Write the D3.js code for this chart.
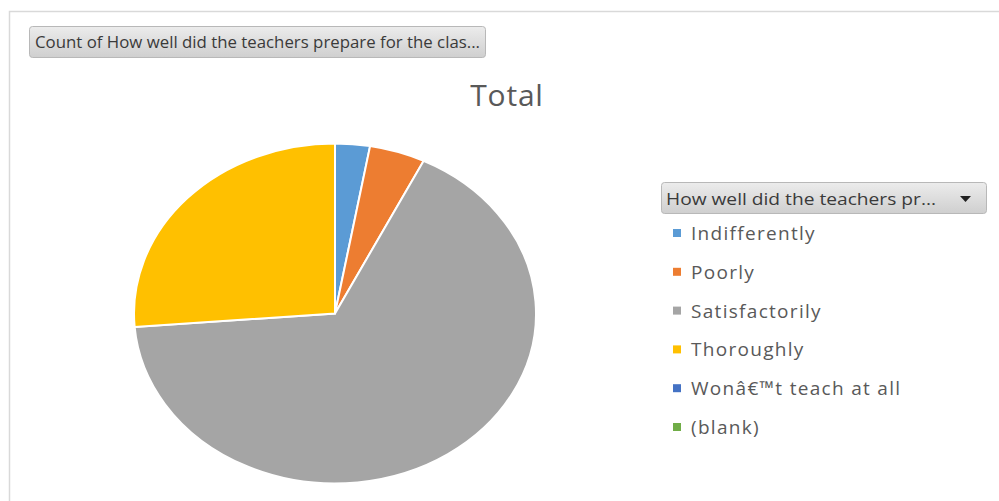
<!DOCTYPE html>
<html>
<head>
<meta charset="utf-8">
<script src="https://cdn.jsdelivr.net/npm/d3@7"></script>
<style>
  body { margin: 0; background: #fff; }
  svg { display: block; font-family: "Open Sans", "Noto Sans", sans-serif; }
</style>
</head>
<body>
<div id="chart"></div>
<script>
// pivot chart data
var categories = ["Indifferently", "Poorly", "Satisfactorily", "Thoroughly", "Won\u00e2\u20ac\u2122t teach at all", "(blank)"];
var counts = [5, 8, 119, 47, 0, 0];
var colors = ["#5b9bd5", "#ed7d31", "#a5a5a5", "#ffc000", "#4472c4", "#70ad47"];

var fieldButton = "Count of How well did the teachers prepare for the clas...";
var legendButton = "How well did the teachers pr...";
var chartTitle = "Total";

var width = 999, height = 501;

var svg = d3.select("#chart").append("svg")
    .attr("width", width)
    .attr("height", height);

var defs = svg.append("defs");
var grad = defs.append("linearGradient")
    .attr("id", "btn-grad")
    .attr("x1", 0).attr("y1", 0).attr("x2", 0).attr("y2", 1);
grad.append("stop").attr("offset", "0%").attr("stop-color", "#ececec");
grad.append("stop").attr("offset", "100%").attr("stop-color", "#cfcfcf");

// chart area border
svg.append("path")
    .attr("d", "M9.5," + height + "V11.5H" + width)
    .style("fill", "none")
    .style("stroke", "#d9d9d9")
    .style("stroke-width", 1.5);

// field button (top left)
svg.append("rect")
    .attr("x", 29.5).attr("y", 26.5)
    .attr("width", 456).attr("height", 31)
    .attr("rx", 3)
    .style("fill", "url(#btn-grad)")
    .style("stroke", "#b8b8b8");

svg.append("text")
    .attr("x", 35).attr("y", 47.5)
    .attr("textLength", 445)
    .attr("lengthAdjust", "spacingAndGlyphs")
    .style("font-size", "15.5px")
    .style("fill", "#3a3a3a")
    .text(fieldButton);

// title
svg.append("text")
    .attr("x", 507).attr("y", 106)
    .attr("text-anchor", "middle")
    .style("font-size", "30px")
    .style("letter-spacing", "0.8px")
    .style("fill", "#595959")
    .text(chartTitle);

// pie
var cx = 335, cy = 313.5, rx = 201, ry = 170;

var pie = d3.pie().sort(null).value(function(d){ return d; });
var arc = d3.arc().innerRadius(0).outerRadius(rx);

var pieG = svg.append("g")
    .attr("transform", "translate(" + cx + "," + cy + ") scale(1," + (ry / rx) + ")");

pieG.selectAll(".slice")
    .data(pie(counts))
  .enter().append("path")
    .attr("class", "slice")
    .attr("d", arc)
    .style("fill", function(d, i){ return colors[i]; })
    .style("stroke", "#fff")
    .style("stroke-width", 2)
    .attr("vector-effect", "non-scaling-stroke");

// legend button
svg.append("rect")
    .attr("x", 661.5).attr("y", 182.5)
    .attr("width", 325).attr("height", 31)
    .attr("rx", 3)
    .style("fill", "url(#btn-grad)")
    .style("stroke", "#b8b8b8");

svg.append("text")
    .attr("x", 666).attr("y", 204.5)
    .attr("textLength", 270)
    .attr("lengthAdjust", "spacingAndGlyphs")
    .style("font-size", "16px")
    .style("fill", "#3a3a3a")
    .text(legendButton);

svg.append("path")
    .attr("d", "M960,196h11l-5.5,6z")
    .style("fill", "#222");

// legend entries
var legendY = d3.scalePoint()
    .domain(categories)
    .range([233, 427]);

var legend = svg.selectAll(".legend-item")
    .data(categories)
  .enter().append("g")
    .attr("class", "legend-item")
    .attr("transform", function(d){ return "translate(673," + legendY(d) + ")"; });

legend.append("rect")
    .attr("x", 0).attr("y", -4)
    .attr("width", 8).attr("height", 8)
    .style("fill", function(d, i){ return colors[i]; });

legend.append("text")
    .attr("x", 18).attr("y", 7)
    .style("font-size", "19px")
    .style("letter-spacing", "1.3px")
    .style("fill", "#595959")
    .text(function(d){ return d; });
</script>
</body>
</html>
